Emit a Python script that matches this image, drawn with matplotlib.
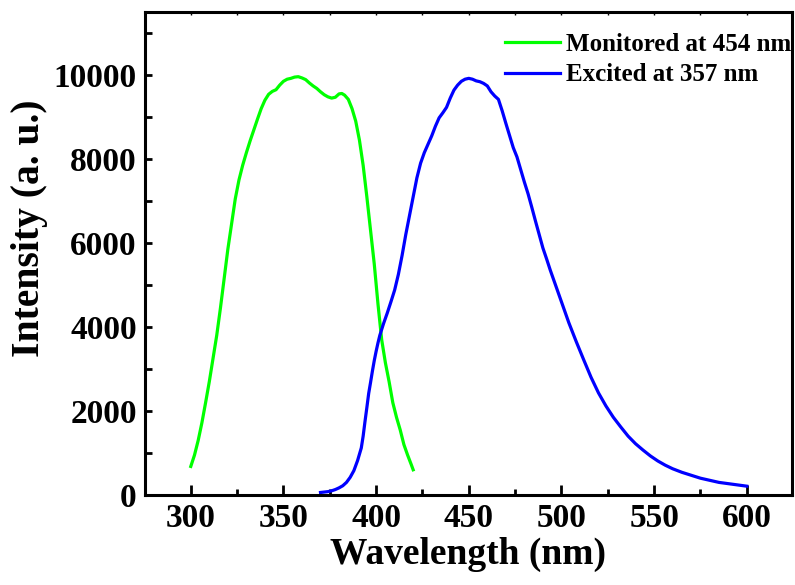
import matplotlib
matplotlib.use("Agg")
import matplotlib.pyplot as plt
from matplotlib.ticker import MultipleLocator

# Excitation spectrum (monitored at 454 nm)
wl_ex = [300, 302, 304, 306, 308, 310, 312, 314, 316, 318, 320, 322, 324, 326, 328,
         330, 332, 334, 336, 338, 340, 342, 344, 346, 348, 350, 352, 354, 356, 358,
         360, 362, 364, 366, 368, 370, 372, 374, 376, 378, 380, 381.5, 383, 385,
         387, 389, 391, 393, 395, 397, 399, 401, 403, 405, 407, 409, 411, 413, 415,
         417, 419, 420]
int_ex = [680, 950, 1300, 1720, 2200, 2700, 3250, 3800, 4450, 5150, 5850, 6450, 7050,
          7500, 7850, 8150, 8430, 8690, 8950, 9200, 9400, 9540, 9610, 9650, 9760,
          9850, 9900, 9920, 9950, 9960, 9930, 9890, 9810, 9740, 9680, 9600, 9530,
          9480, 9450, 9470, 9550, 9560, 9520, 9420, 9200, 8900, 8450, 7850, 7100,
          6300, 5500, 4550, 3700, 3150, 2700, 2200, 1850, 1550, 1200, 950, 720, 600]

# Emission spectrum (excited at 357 nm)
wl_em = [370, 372, 374, 376, 378, 380, 382, 384, 386, 388, 390, 392, 393, 394, 395,
         396, 397, 398, 399, 400, 401, 402, 404, 406, 408, 410, 412, 414, 416, 418,
         420, 422, 424, 426, 428, 430, 432, 434, 436, 438, 440, 442, 444, 446, 448,
         450, 452, 454, 456, 458, 460, 462, 464, 466, 468, 470, 472, 474, 476, 478,
         480, 482, 484, 486, 488, 490, 492, 494, 496, 500, 504, 508, 512, 516, 520,
         524, 528, 532, 536, 540, 544, 548, 552, 556, 560, 565, 570, 575, 580, 585,
         590, 595, 600]
int_em = [60, 70, 80, 100, 130, 170, 220, 300, 420, 580, 820, 1120, 1400, 1750, 2080,
          2420, 2680, 2950, 3200, 3420, 3620, 3800, 4080, 4330, 4600, 4880, 5250,
          5700, 6200, 6650, 7100, 7550, 7900, 8150, 8350, 8550, 8780, 8980, 9100,
          9230, 9450, 9640, 9760, 9850, 9900, 9920, 9900, 9860, 9840, 9800, 9740,
          9600, 9500, 9420, 9150, 8850, 8560, 8270, 8050, 7750, 7450, 7170, 6850,
          6520, 6200, 5880, 5620, 5350, 5100, 4600, 4100, 3650, 3220, 2800, 2430,
          2120, 1850, 1620, 1400, 1220, 1070, 930, 810, 710, 625, 540, 470, 400,
          350, 300, 270, 240, 210]

labels = ["Monitored at 454 nm", "Excited at 357 nm"]
xticks = [300, 350, 400, 450, 500, 550, 600]
yticks = [0, 2000, 4000, 6000, 8000, 10000]

plt.rcParams['font.family'] = ['Liberation Serif', 'DejaVu Serif']
plt.rcParams['font.weight'] = 'bold'

fig = plt.figure(figsize=(7.95, 5.85), dpi=100)
ax = fig.add_axes([145/795, 1 - 495/585, (792-145)/795, (495-12)/585])

ax.plot(wl_ex, int_ex, color='#00ff00', lw=2.3, label=labels[0])
ax.plot(wl_em, int_em, color='#0000ff', lw=2.3, label=labels[1])

ax.set_xlim(275.3, 624.4)
ax.set_ylim(0, 11500)
ax.set_xticks(xticks)
ax.set_yticks(yticks)
ax.xaxis.set_minor_locator(MultipleLocator(25))
ax.yaxis.set_minor_locator(MultipleLocator(1000))

for s in ax.spines.values():
    s.set_linewidth(2.2)

ax.tick_params(axis='both', which='both', direction='in', width=2, labelsize=24,
               top=True, right=False, pad=6)
ax.tick_params(axis='x', which='major', length=7)
ax.tick_params(axis='x', which='minor', length=4)
ax.tick_params(axis='y', which='major', length=5)
ax.tick_params(axis='y', which='minor', length=5)

# tiny ticks on top spine
for t in ax.xaxis.get_major_ticks() + ax.xaxis.get_minor_ticks():
    t.tick2line.set_markersize(2)
    t.tick2line.set_markeredgewidth(1)
    t.tick2line.set_color('#888888')

for lab in ax.get_xticklabels() + ax.get_yticklabels():
    lab.set_fontweight('bold')

ax.set_xlabel("Wavelength (nm)", fontsize=27, fontweight='bold', labelpad=2)
ax.set_ylabel("Intensity (a. u.)", fontsize=28.5, fontweight='bold')
ax.yaxis.set_label_coords(-0.150, 0.553)

leg = ax.legend(loc='upper left', bbox_to_anchor=(0.556, 0.957), frameon=False,
                prop={'family': 'Liberation Serif', 'weight': 'bold', 'size': 18},
                handlelength=2.2, handletextpad=0.25, labelspacing=0.3,
                borderpad=0, borderaxespad=0)
for h in leg.get_lines():
    h.set_linewidth(2.3)

fig.savefig("out.png", dpi=100)
